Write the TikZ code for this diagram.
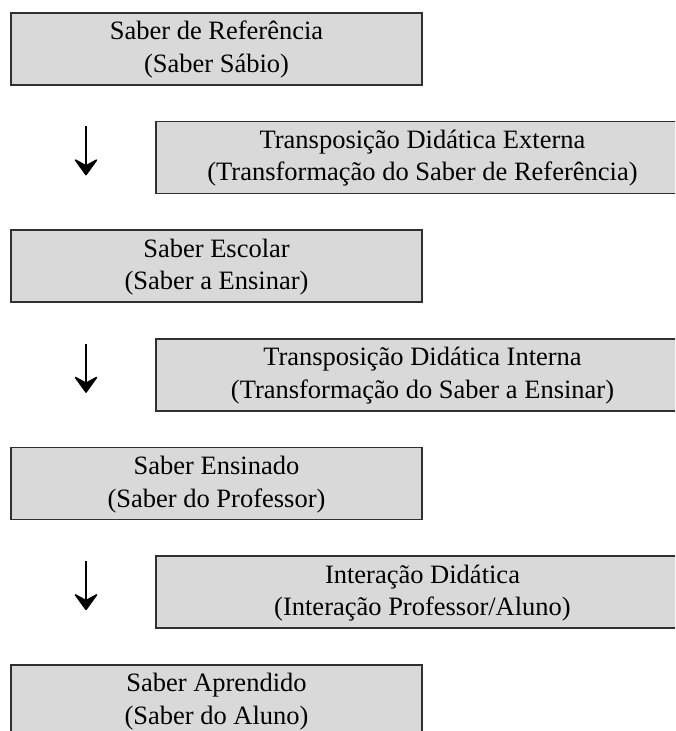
\documentclass[tikz,border=0pt]{standalone}
\usepackage{fontspec}
\setmainfont{Liberation Serif}
\definecolor{boxgray}{HTML}{D9D9D9}
\definecolor{edgegray}{HTML}{303030}
\usetikzlibrary{positioning, arrows.meta}
\newcommand{\topline}{\rule{0pt}{27pt}}
\newcommand{\botline}{\rule[-12.5pt]{0pt}{12.5pt}}
\tikzset{
  saberbox/.style={rectangle, draw=edgegray, line width=1.7pt, fill=boxgray, inner sep=0pt, outer sep=0pt, minimum width=411pt, minimum height=72pt, align=center, font=\fontsize{26.5}{32.5}\selectfont},
  transbox/.style={saberbox, minimum width=533pt},
  seta/.style={-{Stealth[length=18pt, width=26pt, inset=7pt, round]}, line width=1.5pt}
}

\begin{document}
\begin{tikzpicture}[x=1pt, y=1pt]
\clip (0,0) rectangle (675,-731);
\node[saberbox, anchor=north west] (ref) at (11,-12.7) {\topline Saber de Referência\\(Saber Sábio)\botline};
\node[transbox, below right=36.7pt and -266pt of ref] (tde) {\topline Transposição Didática Externa\\(Transformação do Saber de Referência)\botline};
\node[saberbox, below left=36.7pt and -266pt of tde] (esc) {\topline Saber Escolar\\(Saber a Ensinar)\botline};
\node[transbox, below right=36.7pt and -266pt of esc] (tdi) {\topline Transposição Didática Interna\\(Transformação do Saber a Ensinar)\botline};
\node[saberbox, below left=36.7pt and -266pt of tdi] (ens) {\topline Saber Ensinado\\(Saber do Professor)\botline};
\node[transbox, below right=36.7pt and -266pt of ens] (idid) {\topline Interação Didática\\(Interação Professor/Aluno)\botline};
\node[saberbox, below left=36.7pt and -266pt of idid] (apr) {\topline Saber Aprendido\\(Saber do Aluno)\botline};
% arrows beside the transposition boxes
\foreach \t in {tde, tdi, idid} {
  \coordinate (\t-from) at ([xshift=-70pt, yshift=-5pt]\t.north west);
  \coordinate (\t-to) at ([xshift=-70pt, yshift=-54pt]\t.north west);
  \draw[seta] (\t-from) -- (\t-to);
}
\end{tikzpicture}
\end{document}
